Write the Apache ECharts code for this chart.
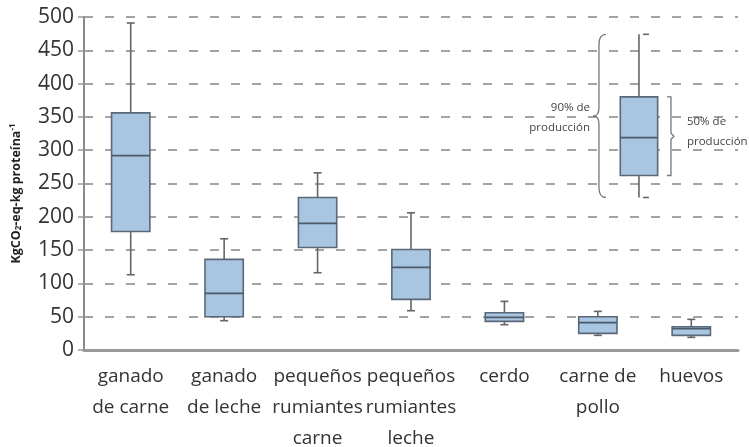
<!DOCTYPE html>
<html>
<head>
<meta charset="utf-8">
<script src="https://cdn.jsdelivr.net/npm/echarts@6/dist/echarts.min.js"></script>
<style>
  html, body { margin: 0; background: #fff; }
  #chart { width: 749px; height: 447px; }
</style>
</head>
<body>
<div id="chart"></div>
<script>
const categories = ['ganado\nde carne', 'ganado\nde leche', 'pequeños\nrumiantes\ncarne', 'pequeños\nrumiantes\nleche', 'cerdo', 'carne de\npollo', 'huevos']
// [min, Q1, mediana, Q3, max]
const boxValues = [
  [113, 178, 292, 356, 491],
  [44, 50, 85, 136, 167],
  [116, 154, 190, 229, 266],
  [59, 76, 124, 151, 206],
  [38, 43, 49, 56, 73],
  [22, 25, 41, 50, 58],
  [19, 22, 32, 35, 46]
]
// caja de ejemplo (leyenda)
const legendBox = [229, 262, 319, 380, 474]
const legendTexts = ['90% de\nproducción', '50% de\nproducción']

const font = 'Open Sans'
const boxFill = '#a8c5e2'
const boxLine = '#5b6878'
const whiskerColor = '#666'

function boxShapes(cx, halfW, p, capLeft) {
  // p = [ymin, yq1, ymed, yq3, ymax] in pixels
  const cap = 4
  const capX1 = capLeft ? cx - cap : cx + 4
  const capX2 = capLeft ? cx + cap : cx + 10
  return [
    { type: 'line', shape: { x1: cx, y1: p[4], x2: cx, y2: p[3] }, style: { stroke: whiskerColor, lineWidth: 1.6 } },
    { type: 'line', shape: { x1: cx, y1: p[1], x2: cx, y2: p[0] }, style: { stroke: whiskerColor, lineWidth: 1.6 } },
    { type: 'line', shape: { x1: capX1, y1: p[4], x2: capX2, y2: p[4] }, style: { stroke: whiskerColor, lineWidth: 1.6 } },
    { type: 'line', shape: { x1: capX1, y1: p[0], x2: capX2, y2: p[0] }, style: { stroke: whiskerColor, lineWidth: 1.6 } },
    { type: 'rect', shape: { x: cx - halfW, y: p[3], width: halfW * 2, height: p[1] - p[3] }, style: { fill: boxFill, stroke: boxLine, lineWidth: 1.6 } },
    { type: 'line', shape: { x1: cx - halfW, y1: p[2], x2: cx + halfW, y2: p[2] }, style: { stroke: '#4d5a6a', lineWidth: 1.8 } }
  ]
}

function renderBox(params, api) {
  const i = api.value(0)
  const pts = [1, 2, 3, 4, 5].map(k => api.coord([i, api.value(k)])[1])
  const cx = api.coord([i, 0])[0]
  const halfW = api.size([1, 0])[0] * 0.205
  return { type: 'group', children: boxShapes(cx, halfW, pts, true) }
}

function renderLegend(params, api) {
  const i = api.value(0)
  const band = api.size([1, 0])[0]
  const cx = api.coord([i, 0])[0] + band * 0.44
  const halfW = band * 0.2
  const p = [1, 2, 3, 4, 5].map(k => api.coord([i, api.value(k)])[1])
  const bx = cx - 40
  const mid = (p[0] + p[4]) / 2
  const brace = 'M' + (bx + 7) + ' ' + p[4] +
    ' Q' + bx + ' ' + p[4] + ' ' + bx + ' ' + (p[4] + 10) +
    ' L' + bx + ' ' + (mid - 8) +
    ' Q' + bx + ' ' + mid + ' ' + (bx - 6) + ' ' + mid +
    ' Q' + bx + ' ' + mid + ' ' + bx + ' ' + (mid + 8) +
    ' L' + bx + ' ' + (p[0] - 10) +
    ' Q' + bx + ' ' + p[0] + ' ' + (bx + 7) + ' ' + p[0]
  const sx = cx + 32
  const smid = (p[1] + p[3]) / 2
  const bracket = 'M' + (sx - 4) + ' ' + p[3] + ' L' + sx + ' ' + p[3] +
    ' L' + sx + ' ' + (smid - 3) + ' L' + (sx + 3) + ' ' + smid +
    ' L' + sx + ' ' + (smid + 3) + ' L' + sx + ' ' + p[1] + ' L' + (sx - 4) + ' ' + p[1]
  const textStyle = { fontFamily: font, fontSize: 11.5, lineHeight: 20, fill: '#444' }
  return {
    type: 'group',
    children: boxShapes(cx, halfW, p, false).concat([
      { type: 'path', shape: { pathData: brace }, style: { fill: 'none', stroke: '#777', lineWidth: 1.3 } },
      { type: 'path', shape: { pathData: bracket }, style: { fill: 'none', stroke: '#777', lineWidth: 1.3 } },
      { type: 'text', x: bx - 9, y: mid + 2, style: Object.assign({ text: legendTexts[0], align: 'right', verticalAlign: 'middle' }, textStyle) },
      { type: 'text', x: sx + 16, y: smid - 4, style: Object.assign({ text: legendTexts[1], align: 'left', verticalAlign: 'middle' }, textStyle) }
    ])
  }
}

const chart = echarts.init(document.getElementById('chart'))
chart.setOption({
  animation: false,
  grid: { left: 84, right: 11, top: 17, bottom: 97, outerBoundsMode: 'none', containLabel: false },
  xAxis: {
    type: 'category',
    data: categories,
    axisLine: { lineStyle: { color: '#9a9a9a', width: 3 } },
    axisTick: { show: false },
    axisLabel: { fontFamily: font, fontSize: 19, lineHeight: 31, color: '#333', margin: 11, interval: 0 }
  },
  yAxis: {
    type: 'value',
    min: 0,
    max: 500,
    interval: 50,
    name: 'KgCO{sub|2}-eq-kg proteína{sup|-1}',
    nameLocation: 'middle',
    nameGap: 60,
    nameTextStyle: {
      fontFamily: font, fontSize: 12.5, fontWeight: 'bold', color: '#222', padding: [0, 20, 0, 0],
      rich: {
        sub: { fontFamily: font, fontSize: 8, fontWeight: 'bold', color: '#222', padding: [5, 0, 0, 0] },
        sup: { fontFamily: font, fontSize: 8, fontWeight: 'bold', color: '#222', padding: [0, 0, 7, 0] }
      }
    },
    axisLine: { show: true, lineStyle: { color: '#8a8a8a', width: 2 } },
    axisTick: { show: true, length: 6, lineStyle: { color: '#999', width: 1.5 } },
    axisLabel: { fontFamily: font, fontSize: 21, color: '#333', margin: 10 },
    splitLine: { lineStyle: { color: '#a3a3a3', width: 2, type: [9, 12] } }
  },
  series: [
    {
      type: 'custom',
      renderItem: renderBox,
      encode: { x: 0, y: [1, 2, 3, 4, 5] },
      data: boxValues.map((v, i) => [i].concat(v)),
      z: 5
    },
    {
      type: 'custom',
      renderItem: renderLegend,
      encode: { x: 0, y: [1, 2, 3, 4, 5] },
      data: [[5].concat(legendBox)],
      z: 5
    }
  ]
})
</script>
</body>
</html>
